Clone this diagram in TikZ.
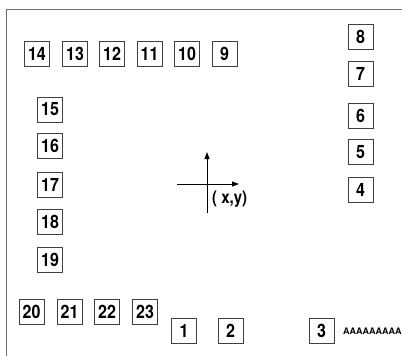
\documentclass[tikz,border=0pt]{standalone}
\usepackage{fontspec}
\setmainfont{TeX Gyre Heros}
\usetikzlibrary{arrows.meta}
\newcommand{\tall}[1]{\scalebox{1}[1.15]{#1}}
\begin{document}
\begin{tikzpicture}[x=1pt,y=-1pt,
  numbox/.style={draw=black!75,line width=0.8pt,minimum width=25pt,minimum height=25pt,inner sep=0pt,font=\fontsize{16}{16}\selectfont\bfseries},
  axis/.style={line width=0.9pt,-{Triangle[length=7pt,width=5pt]}},
  frame/.style={draw=black!55,line width=1pt}]
\useasboundingbox (0,0) rectangle (402,356);
\coordinate (ftl) at (6,9);
\coordinate (ftr) at (402,9);
\coordinate (fbl) at (6,356);
\draw[frame] (ftr) -- (ftl) -- (fbl);
% top row
\node[numbox] (n14) at (37,53.5) {\tall{14}};
\node[numbox] (n13) at (75,53.5) {\tall{13}};
\node[numbox] (n12) at (112,53.5) {\tall{12}};
\node[numbox] (n11) at (149.5,53.5) {\tall{11}};
\node[numbox] (n10) at (187,53.5) {\tall{10}};
\node[numbox] (n9) at (224.5,53.5) {\tall{9}};
% right column
\node[numbox] (n8) at (360.5,36.5) {\tall{8}};
\node[numbox] (n7) at (360.5,74) {\tall{7}};
\node[numbox] (n6) at (360.5,115.5) {\tall{6}};
\node[numbox] (n5) at (360.5,152) {\tall{5}};
\node[numbox] (n4) at (360.5,190) {\tall{4}};
% left column
\node[numbox] (n15) at (50,109.5) {\tall{15}};
\node[numbox] (n16) at (50,146) {\tall{16}};
\node[numbox] (n17) at (50,184.5) {\tall{17}};
\node[numbox] (n18) at (50,221.5) {\tall{18}};
\node[numbox] (n19) at (50,259.5) {\tall{19}};
% bottom row
\node[numbox] (n20) at (31.5,312) {\tall{20}};
\node[numbox] (n21) at (69.5,312) {\tall{21}};
\node[numbox] (n22) at (107,312) {\tall{22}};
\node[numbox] (n23) at (145,312) {\tall{23}};
\node[numbox] (n1) at (184,330.5) {\tall{1}};
\node[numbox] (n2) at (230.5,330.5) {\tall{2}};
\node[numbox] (n3) at (321.5,330.5) {\tall{3}};
\node[anchor=west,inner sep=0pt,font=\fontsize{9}{9}\selectfont\bfseries] (aaa) at (343,331) {AAAAAAAAA};
% axes
\coordinate (vb) at (207,213);
\coordinate (vt) at (207,152);
\coordinate (hl) at (177,184);
\coordinate (hr) at (239,184);
\draw[axis] (vb) -- (vt);
\draw[axis] (hl) -- (hr);
\node[anchor=west,inner sep=0pt,font=\fontsize{15}{15}\selectfont\bfseries] (xy) at (212,199) {\tall{( x,y)}};
\end{tikzpicture}
\end{document}
